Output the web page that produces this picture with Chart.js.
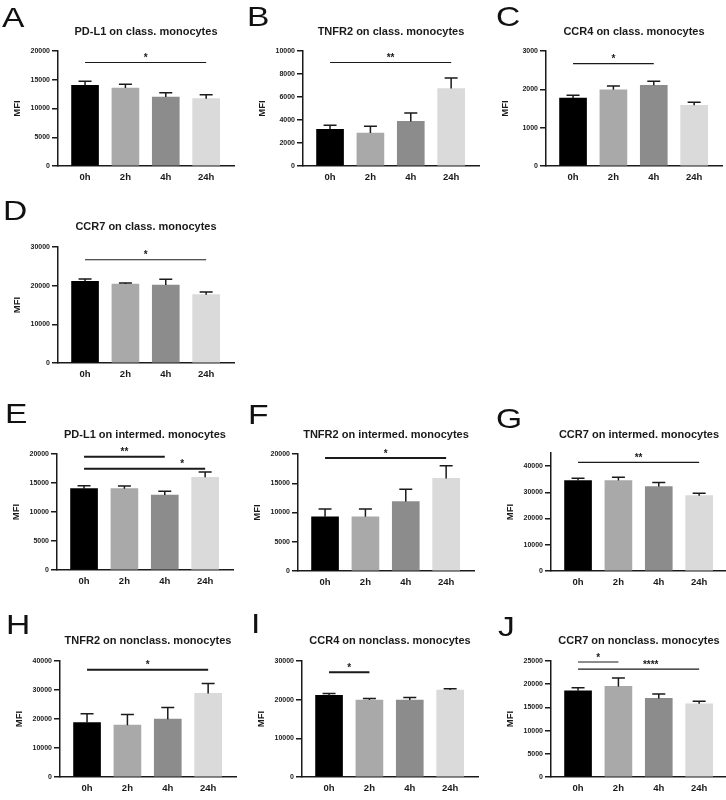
<!DOCTYPE html>
<html><head><meta charset="utf-8">
<script src="https://cdn.jsdelivr.net/npm/chart.js@4.4.0/dist/chart.umd.min.js"></script>
<style>
html,body{margin:0;padding:0;background:#fff;width:726px;height:800px;overflow:hidden;position:relative;}
canvas{position:absolute;}
.lt{position:absolute;font-family:"Liberation Sans",Arial,sans-serif;font-size:28px;line-height:28px;color:#111;transform:scaleX(1.2);transform-origin:0 0;white-space:nowrap;}
</style></head><body>
<script>
// ---------------- data ----------------
const categories = ['0h', '2h', '4h', '24h'];

const meanA = [14030, 13570, 12000, 11710];
const errA  = [700, 630, 750, 690];
const sigA  = [[0, 3, 18000, '*', 1.5]];

const meanB = [3190, 2870, 3880, 6730];
const errB  = [350, 580, 730, 920];
const sigB  = [[0, 3, 9000, '**', 1.5]];

const meanC = [1775, 1990, 2105, 1585];
const errC  = [70, 95, 105, 75];
const sigC  = [[0, 2, 2670, '*', 1]];

const meanD = [21120, 20430, 20170, 17670];
const errD  = [600, 260, 1470, 690];
const sigD  = [[0, 3, 26700, '*', 1.5]];

const meanE = [14020, 14020, 12930, 15980];
const errE  = [520, 460, 630, 920];
const sigE  = [[0, 2, 19540, '**', 1], [0, 3, 17470, '*', 2.43]];

const meanF = [9280, 9280, 11860, 15820];
const errF  = [1320, 1320, 2120, 2170];
const sigF  = [[0, 3, 19310, '*', 1.5]];

const meanG = [34490, 34490, 32180, 28720];
const errG  = [900, 1280, 1540, 900];
const sigG  = [[0, 3, 41400, '**', 1.5]];

const meanH = [18790, 17870, 19940, 28820];
const errH  = [3000, 3690, 4040, 3460];
const sigH  = [[0, 3, 37000, '*', 1.5]];

const meanI = [21100, 19890, 19890, 22480];
const errI  = [510, 430, 690, 340];
const sigI  = [[0, 1, 27060, '*', 0.5]];

const meanJ = [18590, 19520, 16930, 15780];
const errJ  = [650, 1810, 940, 570];
const sigJ  = [[0, 1, 24780, '*', 0.5], [0, 3, 23270, '****', 1.8]];

const yMaxes = [20000, 10000, 3000, 30000, 20000, 20000, 45000, 40000, 30000, 25000];
const ySteps = [5000, 2000, 1000, 10000, 5000, 5000, 10000, 10000, 10000, 5000];

const titles = [
  'PD-L1 on class. monocytes', 'TNFR2 on class. monocytes', 'CCR4 on class. monocytes',
  'CCR7 on class. monocytes', 'PD-L1 on intermed. monocytes', 'TNFR2 on intermed. monocytes',
  'CCR7 on intermed. monocytes', 'TNFR2 on nonclass. monocytes', 'CCR4 on nonclass. monocytes',
  'CCR7 on nonclass. monocytes'
];
const panelLetters = ['A','B','C','D','E','F','G','H','I','J'];

// ---------------- layout / style ----------------
const FONT = '"Liberation Sans", Arial, sans-serif';
const barColors = ['#000000', '#a9a9a9', '#8c8c8c', '#dadada'];
const INK = '#1a1a1a';
// axisX, plotTop, plotBottom, titleY, sigLineWidth
const layoutPanels = [
  [58, 51, 166, 32, 1.2], [303, 51, 166, 32, 1.2], [546, 51, 166, 32, 1.2],
  [58, 247, 363, 227, 1.2],
  [57, 454, 570, 435, 2], [298, 454, 571, 435, 2], [551, 453, 571, 435, 1.2],
  [60, 661, 777, 641, 2], [302, 661, 777, 641, 2], [551, 661, 777, 641, 1.2]
];
// letter ink left, cap top
const letterPos = [[3,8],[248,7],[497,7],[4,201],[6,404],[249,405],[497,409],[7,615],[252,614],[499,617]];

const means = [meanA, meanB, meanC, meanD, meanE, meanF, meanG, meanH, meanI, meanJ];
const errs  = [errA, errB, errC, errD, errE, errF, errG, errH, errI, errJ];
const sigs  = [sigA, sigB, sigC, sigD, sigE, sigF, sigG, sigH, sigI, sigJ];

Chart.defaults.font.family = FONT;

function overlayPlugin(mean, err, sig, sigW) {
  return {
    id: 'overlay',
    afterDatasetsDraw(chart) {
      const ctx = chart.ctx, x = chart.scales.x, y = chart.scales.y;
      ctx.save();
      ctx.strokeStyle = INK; ctx.fillStyle = INK;
      ctx.lineWidth = 1.5;
      mean.forEach((m, i) => {
        const cx = x.getPixelForValue(i);
        const y0 = y.getPixelForValue(m), y1 = y.getPixelForValue(m + err[i]);
        ctx.beginPath();
        ctx.moveTo(cx, y0); ctx.lineTo(cx, y1);
        ctx.moveTo(cx - 6.5, y1); ctx.lineTo(cx + 6.5, y1);
        ctx.stroke();
      });
      sig.forEach(s => {
        const yy = y.getPixelForValue(s[2]);
        ctx.lineWidth = sigW;
        ctx.beginPath();
        ctx.moveTo(x.getPixelForValue(s[0]), yy); ctx.lineTo(x.getPixelForValue(s[1]), yy);
        ctx.stroke();
        ctx.font = 'bold 10px ' + FONT;
        ctx.textAlign = 'center'; ctx.textBaseline = 'alphabetic';
        ctx.fillText(s[3], x.getPixelForValue(s[4]), yy - 1.5);
      });
      ctx.restore();
    }
  };
}

function makePanel(k) {
  const [axisX, plotTop, plotBottom, titleY, sigW] = layoutPanels[k];
  const yMax = yMaxes[k], yStep = ySteps[k];
  const cv = document.createElement('canvas');
  const left = axisX - 50, top = plotTop - 30;
  const W = 50 + 176 + 6, H = (plotBottom - top) + 24;
  cv.width = W; cv.height = H;
  cv.style.left = left + 'px'; cv.style.top = top + 'px';
  cv.style.width = W + 'px'; cv.style.height = H + 'px';
  document.body.appendChild(cv);
  const padB = plotTop - titleY - 6.6;
  const padT = 30 - 13.2 - padB;
  new Chart(cv, {
    type: 'bar',
    data: {
      datasets: [{
        data: means[k].map((v, i) => ({ x: i, y: v })),
        backgroundColor: barColors,
        borderWidth: 0,
        barThickness: 27
      }]
    },
    options: {
      responsive: false, animation: false, devicePixelRatio: 1,
      layout: { padding: { left: 0, right: 6, top: 0, bottom: 0 } },
      plugins: {
        legend: { display: false }, tooltip: { enabled: false },
        title: {
          display: true, text: titles[k], fullSize: false, color: INK,
          font: { family: FONT, size: 11, weight: 'bold', lineHeight: 1.2 },
          padding: { top: padT, bottom: padB }
        }
      },
      scales: {
        x: {
          type: 'linear', min: -0.67, max: 3.69, offset: false,
          grid: { display: false, drawTicks: false, offset: false },
          border: { display: true, color: INK, width: 1.5 },
          afterBuildTicks: s => { s.ticks = categories.map((c, i) => ({ value: i })); },
          ticks: {
            callback: v => categories[v], color: INK, padding: 6, autoSkip: false, maxRotation: 0,
            font: { family: FONT, size: 9.5, weight: 'bold' }
          },
          afterFit: s => { s.height = 24; }
        },
        y: {
          min: 0, max: yMax,
          grid: { display: true, drawOnChartArea: false, drawTicks: true, tickLength: 6, color: INK, lineWidth: 1.5 },
          border: { display: true, color: INK, width: 1.5 },
          afterBuildTicks: s => {
            const t = [];
            for (let v = 0; v <= yMax; v += yStep) t.push({ value: v });
            s.ticks = t;
          },
          ticks: { callback: v => String(v), color: INK, padding: 2, font: { family: FONT, size: 7, weight: 'bold' } },
          title: { display: true, text: 'MFI', color: INK, font: { family: FONT, size: 9.5, weight: 'bold' }, padding: { top: 4, bottom: 0 } },
          afterFit: s => { s.width = 50; }
        }
      }
    },
    plugins: [overlayPlugin(means[k], errs[k], sigs[k], sigW)]
  });
}

for (let k = 0; k < 10; k++) makePanel(k);

panelLetters.forEach((L, k) => {
  const d = document.createElement('div');
  d.className = 'lt';
  d.textContent = L;
  d.style.left = (letterPos[k][0] - 1) + 'px';
  d.style.top = (letterPos[k][1] - 3.65) + 'px';
  document.body.appendChild(d);
});
</script>
</body></html>
